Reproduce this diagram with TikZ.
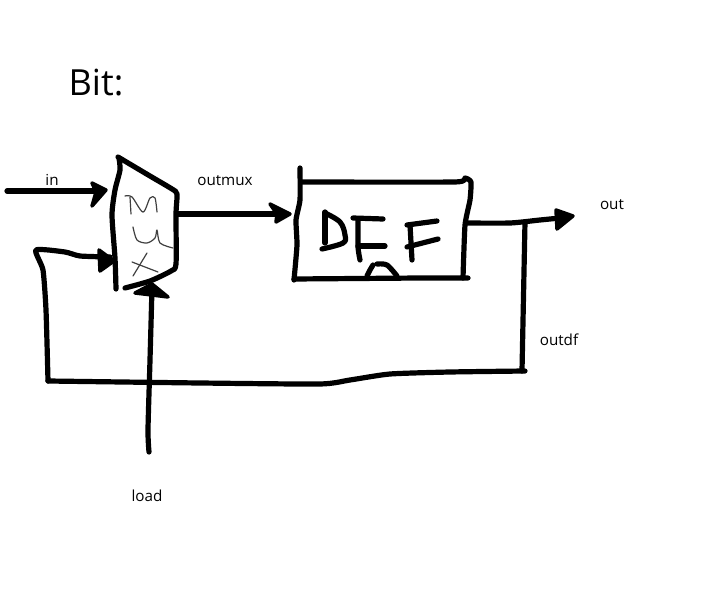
\documentclass[tikz,border=0pt]{standalone}
\usepackage{fontspec}
\setmainfont{Open Sans}
\tikzset{
  ink/.style={line width=5.2pt,line cap=round,line join=round,black},
  thinink/.style={line width=1.2pt,line cap=round,line join=round,black!75},
  headfill/.style={fill=black,draw=black,line width=3.5pt,line join=round},
  lbl/.style={font=\fontsize{15.2}{17}\selectfont,text=black,inner sep=0pt}
}
\begin{document}
\begin{tikzpicture}[x=1pt,y=-1pt]
\useasboundingbox (0,0) rectangle (710,599);
\fill[white] (0,0) rectangle (710,599);
% labels
\node[inner sep=0pt,font=\fontsize{36}{40}\selectfont] (title) at (96,83) {Bit:};
\node[lbl] (lin) at (52,180) {in};
\node[lbl] (loutmux) at (225,181) {outmux};
\node[lbl] (lout) at (612,205) {out};
\node[lbl] (loutdf) at (559,340) {outdf};
\node[lbl] (lload) at (147,496) {load};
% connector ends
\coordinate (inS) at (7,191);
\coordinate (inE) at (103,191);
\coordinate (muxOut) at (177,214);
\coordinate (dffIn) at (287,214);
\coordinate (fbE) at (110,257);
\coordinate (loadS) at (149,452);
\coordinate (loadE) at (152,288);
\coordinate (dffOut) at (467,223);
\coordinate (outE) at (570,217);
\coordinate (tap) at (525,222);
% mux
\draw[ink] plot[smooth,tension=.4] coordinates {(118,157) (150,176) (172,189) (177,194) (176,214) (176,264) (171,271) (150,281) (125,288)};
\draw[ink] plot[smooth,tension=.4] coordinates {(119,158) (120,170) (115,190) (112,215) (115,258) (116,289)};
% mux letters
\draw[thinink] plot[smooth,tension=.5] coordinates {(125,196) (132,197) (143,212) (150,198) (155,198) (157,212)};
\draw[thinink] (130,197) -- (131,214);
\draw[thinink] plot[smooth,tension=.5] coordinates {(133,227) (137,240) (147,243) (155,238) (157,230) (160,243) (173,248)};
\draw[thinink] (147,253) -- (133,276);
\draw[thinink] (132,262) -- (158,272);
% dff
\draw[ink] plot[smooth,tension=.3] coordinates {(300,168) (300,200) (296,220) (297,245) (294,280)};
\draw[ink] plot[smooth,tension=.3] coordinates {(301,182) (455,182) (465,178) (471,182) (470,200) (465,225) (463,278)};
\draw[ink] (294,279) -- (420,278) -- (468,278);
% D F F letters
\draw[ink] (325,212) -- (325,243);
\draw[ink] plot[smooth,tension=.6] coordinates {(325,213) (340,222) (345,235) (343,243) (322,249)};
\draw[ink] (353,218) -- (383,219);
\draw[ink] plot[smooth,tension=.4] coordinates {(358,220) (358,247) (360,260)};
\draw[ink] (358,246) -- (385,246);
\draw[ink] (407,225) -- (437,221);
\draw[ink] (410,225) -- (412,260);
\draw[ink] (407,247) -- (438,239);
\draw[ink] plot[smooth,tension=.5] coordinates {(367,276) (370,270) (373,265)};
\draw[ink] plot[smooth,tension=.5] coordinates {(377,264) (387,265) (397,276)};
% connectors
\draw[ink] (inS) -- (inE);
\draw[headfill] (92,183) -- (106,190) -- (92,206) -- (96,192) -- cycle;
\draw[ink] (muxOut) -- (dffIn);
\draw[headfill] (270,204) -- (290,214) -- (276,222) -- (277,214) -- cycle;
\draw[ink] plot[smooth,tension=.35] coordinates {(fbE) (80,256) (65,252) (36,250) (43,270) (46,310) (48,381)};
\draw[headfill] (99,250) -- (114,261) -- (100,271) -- cycle;
\draw[ink] plot[smooth,tension=.35] coordinates {(48,381) (200,383) (320,384) (350,380) (390,374) (450,372) (525,371)};
\draw[ink] (522,371) -- (tap);
\draw[ink] plot[smooth,tension=.4] coordinates {(loadS) (148,430) (150,360) (loadE)};
\draw[headfill] (135,293) -- (152,284) -- (168,297) -- (152,295) -- cycle;
\draw[ink] plot[smooth,tension=.4] coordinates {(dffOut) (510,223) (540,220) (outE)};
\draw[headfill] (556,210) -- (573,216) -- (557,229) -- cycle;
\end{tikzpicture}
\end{document}
